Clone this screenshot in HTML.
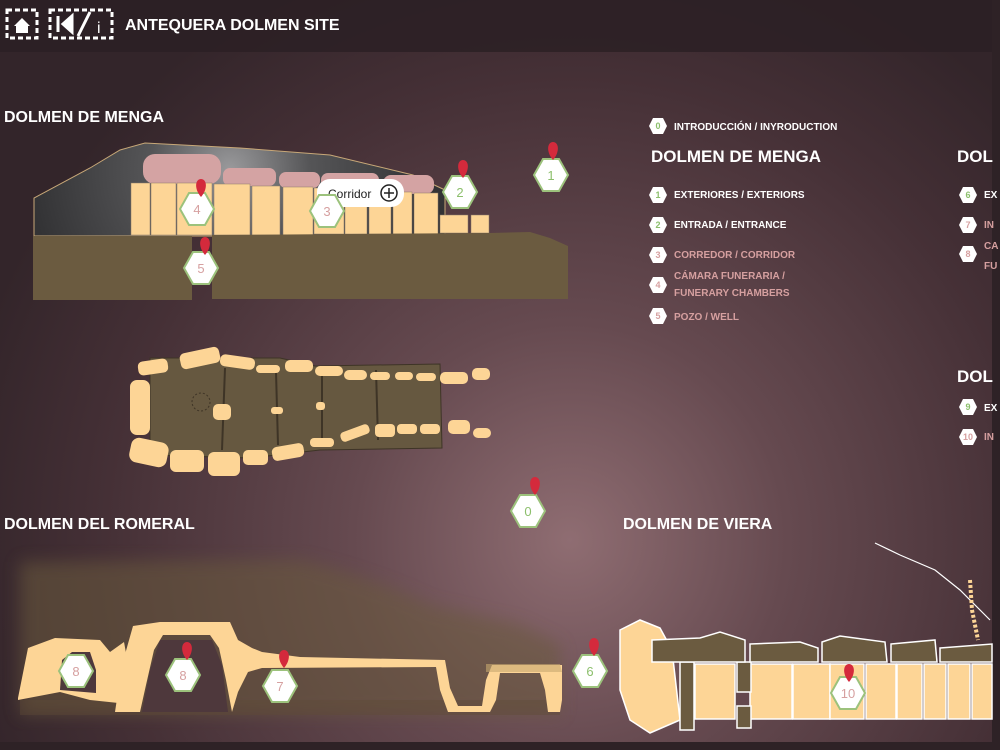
<!DOCTYPE html>
<html><head><meta charset="utf-8"><style>
html,body{margin:0;padding:0;width:1000px;height:750px;overflow:hidden;background:#2e2226}
svg{display:block}
text{font-family:"Liberation Sans",sans-serif}
</style></head><body>
<svg width="1000" height="750" viewBox="0 0 1000 750" xmlns="http://www.w3.org/2000/svg">
<defs>
<radialGradient id="bg" cx="570" cy="540" r="620" gradientUnits="userSpaceOnUse">
<stop offset="0" stop-color="#8f6d72"/><stop offset="0.35" stop-color="#664a50"/><stop offset="0.75" stop-color="#453036"/><stop offset="1" stop-color="#33252a"/></radialGradient>
<radialGradient id="mound" cx="230" cy="170" r="200" gradientUnits="userSpaceOnUse">
<stop offset="0" stop-color="#9a9a9c"/><stop offset="0.4" stop-color="#555557"/><stop offset="1" stop-color="#333335"/></radialGradient>
<filter id="blur" x="-10%" y="-10%" width="120%" height="120%"><feGaussianBlur stdDeviation="8"/></filter>
<g id="pin"><path d="M0,0 C-7,-8 -6,-18 0,-18 C6,-18 7,-8 0,0Z" fill="#d42a3c"/></g>
<polygon id="hex" points="-17,0 -8,-16 8,-16 17,0 8,16 -8,16" fill="#fff" stroke="#9cc27c" stroke-width="2"/>
<polygon id="sh" points="-9,0 -5,-8 5,-8 9,0 5,8 -5,8" fill="#fff"/>
</defs>
<rect width="1000" height="750" fill="url(#bg)"/>
<rect width="1000" height="52" fill="#2c2024" opacity="0.85"/>
<rect x="992" y="0" width="8" height="750" fill="#2e2226"/>
<rect x="0" y="742" width="1000" height="8" fill="#2e2226"/>
<!-- header icons -->
<rect x="7" y="10" width="30" height="28" fill="none" stroke="#fff" stroke-width="3" stroke-dasharray="5,3"/>
<path d="M14,26 L22,18 L30,26 L28,26 L28,33 L16,33 L16,26Z" fill="#fff"/>
<rect x="50" y="10" width="62" height="28" fill="none" stroke="#fff" stroke-width="3" stroke-dasharray="5,3"/>
<path d="M58,16 L58,32 M72,16 L63,24 L72,32Z" stroke="#fff" stroke-width="3" fill="#fff"/>
<line x1="78" y1="36" x2="90" y2="12" stroke="#fff" stroke-width="3"/>
<text x="97" y="33" fill="#fff" font-size="16">i</text>
<text x="125" y="30" fill="#fff" font-size="16" font-weight="bold">ANTEQUERA DOLMEN SITE</text>
<!-- section titles -->
<g fill="#fff" font-size="16" font-weight="bold">
<text x="4" y="122">DOLMEN DE MENGA</text>
<text x="4" y="529">DOLMEN DEL ROMERAL</text>
<text x="623" y="529">DOLMEN DE VIERA</text>
<text x="651" y="162" font-size="17">DOLMEN DE MENGA</text>
<text x="957" y="162" font-size="17">DOL</text>
<text x="957" y="382" font-size="17">DOL</text>
</g>
<!-- legend -->
<g font-size="10" font-weight="bold">
<g fill="#fff"><text x="674" y="130">INTRODUCCIÓN / INYRODUCTION</text><text x="674" y="198">EXTERIORES / EXTERIORS</text><text x="674" y="228">ENTRADA / ENTRANCE</text><text x="984" y="198">EX</text><text x="984" y="411">EX</text></g>
<g fill="#d6a0a0"><text x="674" y="258">CORREDOR / CORRIDOR</text><text x="674" y="279">CÁMARA FUNERARIA /</text><text x="674" y="296">FUNERARY CHAMBERS</text><text x="674" y="320">POZO / WELL</text><text x="984" y="228">IN</text><text x="984" y="249">CA</text><text x="984" y="269">FU</text><text x="984" y="440">IN</text></g>
</g>
<g font-size="9" font-weight="bold" text-anchor="middle">
<use href="#sh" x="658" y="126"/><text x="658" y="129" fill="#8cbf6c">0</text>
<use href="#sh" x="658" y="195"/><text x="658" y="198" fill="#8cbf6c">1</text>
<use href="#sh" x="658" y="225"/><text x="658" y="228" fill="#8cbf6c">2</text>
<use href="#sh" x="658" y="255"/><text x="658" y="258" fill="#d6a0a0">3</text>
<use href="#sh" x="658" y="285"/><text x="658" y="288" fill="#d6a0a0">4</text>
<use href="#sh" x="658" y="316"/><text x="658" y="319" fill="#d6a0a0">5</text>
<use href="#sh" x="968" y="195"/><text x="968" y="198" fill="#8cbf6c">6</text>
<use href="#sh" x="968" y="225"/><text x="968" y="228" fill="#d6a0a0">7</text>
<use href="#sh" x="968" y="254"/><text x="968" y="257" fill="#d6a0a0">8</text>
<use href="#sh" x="968" y="407"/><text x="968" y="410" fill="#8cbf6c">9</text>
<use href="#sh" x="968" y="437"/><text x="968" y="440" fill="#d6a0a0">10</text>
</g>
<!-- MENGA section view -->
<path d="M34,198 L34,236 L445,236 L445,190 L413,175 L330,155 L240,148 L145,143 L120,150 L90,168 Z" fill="url(#mound)" stroke="#c8a878" stroke-width="1"/>
<g fill="#d4a3a3">
<rect x="143" y="154" width="78" height="30" rx="12"/>
<rect x="223" y="168" width="53" height="18" rx="7"/>
<rect x="279" y="172" width="41" height="16" rx="7"/>
<rect x="321" y="173" width="58" height="16" rx="7"/>
<rect x="383" y="175" width="51" height="19" rx="8"/>
</g>
<g fill="#fdd596" stroke="#8a7a6a" stroke-width="0.5">
<rect x="131" y="183" width="19" height="52"/><rect x="151" y="183" width="25" height="52"/><rect x="177" y="183" width="35" height="52"/>
<rect x="214" y="184" width="36" height="51"/><rect x="252" y="186" width="28" height="49"/><rect x="283" y="187" width="30" height="48"/>
<rect x="314" y="188" width="30" height="46"/><rect x="345" y="190" width="22" height="44"/><rect x="369" y="190" width="22" height="44"/>
<rect x="393" y="192" width="19" height="42"/><rect x="414" y="193" width="24" height="41"/><rect x="440" y="215" width="28" height="18"/><rect x="471" y="215" width="18" height="18"/>
</g>
<path d="M33,236 L192,236 L192,300 L33,300Z" fill="#6b5b40"/>
<path d="M212,235 L490,233 L530,232 L550,238 L568,246 L568,299 L212,299Z" fill="#6b5b40"/>
<!-- corridor popup -->
<rect x="317" y="179" width="87" height="28" rx="13" fill="#fff"/>
<text x="328" y="198" font-size="12" fill="#222">Corridor</text>
<circle cx="389" cy="193" r="8" fill="none" stroke="#222" stroke-width="1.5"/>
<path d="M384,193 H394 M389,188 V198" stroke="#222" stroke-width="1.5"/>
<!-- plan view -->
<path d="M150,358 L280,358 L315,366 L440,364 L442,448 L320,450 L250,458 L150,455Z" fill="#665840" stroke="#3e3426" stroke-width="1"/>
<g stroke="#3e3426" stroke-width="2"><line x1="225" y1="368" x2="222" y2="450"/><line x1="276" y1="372" x2="278" y2="445"/><line x1="322" y1="376" x2="322" y2="442"/><line x1="376" y1="370" x2="378" y2="440"/></g>
<circle cx="201" cy="402" r="9" fill="none" stroke="#3e3426" stroke-dasharray="2,2"/>
<g fill="#fdd596">
<rect x="138" y="360" width="30" height="14" rx="5" transform="rotate(-8 153 367)"/>
<rect x="180" y="350" width="40" height="16" rx="5" transform="rotate(-12 200 358)"/>
<rect x="220" y="356" width="35" height="12" rx="5" transform="rotate(8 237 362)"/>
<rect x="256" y="365" width="24" height="8" rx="4"/>
<rect x="285" y="360" width="28" height="12" rx="5"/>
<rect x="315" y="366" width="28" height="10" rx="5"/>
<rect x="344" y="370" width="23" height="10" rx="5"/>
<rect x="370" y="372" width="20" height="8" rx="4"/><rect x="395" y="372" width="18" height="8" rx="4"/><rect x="416" y="373" width="20" height="8" rx="4"/>
<rect x="440" y="372" width="28" height="12" rx="5"/><rect x="472" y="368" width="18" height="12" rx="5"/>
<rect x="130" y="380" width="20" height="55" rx="7"/>
<rect x="213" y="404" width="18" height="16" rx="5"/><rect x="271" y="407" width="12" height="7" rx="3"/><rect x="316" y="402" width="9" height="8" rx="3"/>
<rect x="130" y="440" width="38" height="25" rx="8" transform="rotate(12 149 452)"/>
<rect x="170" y="450" width="34" height="22" rx="6"/><rect x="208" y="452" width="32" height="24" rx="6"/>
<rect x="243" y="450" width="25" height="15" rx="5"/><rect x="272" y="445" width="32" height="14" rx="5" transform="rotate(-10 288 452)"/>
<rect x="310" y="438" width="24" height="9" rx="4"/><rect x="340" y="428" width="30" height="10" rx="4" transform="rotate(-20 355 433)"/>
<rect x="375" y="424" width="20" height="13" rx="4"/><rect x="397" y="424" width="20" height="10" rx="4"/><rect x="420" y="424" width="20" height="10" rx="4"/>
<rect x="448" y="420" width="22" height="14" rx="5"/><rect x="473" y="428" width="18" height="10" rx="5"/>
</g>
<!-- ROMERAL -->
<path d="M20,562 L300,560 Q380,580 430,605 L520,625 L560,645 L560,715 L20,715Z" fill="#6b5a3c" opacity="0.55" filter="url(#blur)"/>
<path d="M560,715 L20,715 L20,700 L560,700Z" fill="#5e4a38" opacity="0.4"/>
<path d="M160,640 L212,640 L222,665 L228,712 L142,712 L150,670Z" fill="#4e383c"/>
<g fill="#fdd596">
<path d="M18,698 L28,648 L55,638 L100,640 L110,652 L124,642 L130,675 L128,704 L90,700 L60,692 L18,700Z"/>
<path d="M115,712 L122,665 L133,626 L160,622 L230,622 L238,640 L252,648 L262,652 L300,657 L445,660 L450,688 L458,706 L482,706 L486,680 L492,665 L562,665 L562,700 L560,712 L548,712 L545,690 L540,673 L500,673 L496,700 L490,712 L448,712 L440,690 L436,667 L262,668 L248,672 L238,692 L232,712 L226,680 L219,648 L210,635 L163,635 L154,650 L146,685 L140,712Z"/>
</g>
<path d="M60,690 L62,660 L72,652 L90,652 L96,670 L96,693 Z" fill="#4e383c"/>
<path d="M486,664 L560,664 L562,672 L486,672Z" fill="#c8a870" opacity="0.6"/>
<!-- VIERA -->
<path d="M620,630 L640,620 L660,628 L672,650 L680,720 L650,733 L630,720 L620,690Z" fill="#fdd596" stroke="#fff" stroke-width="1.5"/>
<g fill="#fdd596" stroke="#fff" stroke-width="1.5">
<rect x="695" y="664" width="40" height="55"/><rect x="750" y="664" width="42" height="55"/><rect x="793" y="664" width="37" height="55"/>
<rect x="830" y="664" width="34" height="55"/><rect x="866" y="664" width="30" height="55"/><rect x="897" y="664" width="25" height="55"/>
<rect x="924" y="664" width="22" height="55"/><rect x="948" y="664" width="22" height="55"/><rect x="972" y="664" width="20" height="55"/>
</g>
<g fill="#6b5b40" stroke="#fff" stroke-width="1.5">
<rect x="680" y="662" width="14" height="68"/><rect x="737" y="662" width="14" height="30"/><rect x="737" y="706" width="14" height="22"/>
<path d="M652,640 L700,638 L720,632 L745,640 L745,662 L652,662Z"/>
<path d="M750,644 L800,642 L818,648 L818,662 L750,662Z"/>
<path d="M822,642 L840,636 L885,642 L887,662 L822,662Z"/>
<path d="M891,644 L935,640 L937,662 L891,662Z"/>
<path d="M940,648 L992,644 L992,662 L940,662Z"/>
</g>
<path d="M875,543 L900,555 L935,570 L960,590 L990,620" fill="none" stroke="#fff" stroke-width="1.2"/>
<path d="M970,580 L972,610 L978,640" stroke="#fdd596" stroke-width="4" stroke-dasharray="3,2" fill="none"/>
<!-- markers -->
<g font-family="Liberation Serif,serif" font-size="13" text-anchor="middle">
<use href="#hex" x="551" y="175"/><text x="551" y="180" fill="#8cbf6c">1</text><use href="#pin" x="553" y="160"/>
<use href="#hex" x="460" y="192"/><text x="460" y="197" fill="#8cbf6c">2</text><use href="#pin" x="463" y="178"/>
<use href="#hex" x="327" y="211"/><text x="327" y="216" fill="#d6a0a0">3</text>
<use href="#hex" x="197" y="209"/><text x="197" y="214" fill="#d6a0a0">4</text><use href="#pin" x="201" y="197"/>
<use href="#hex" x="201" y="268"/><text x="201" y="273" fill="#d6a0a0">5</text><use href="#pin" x="205" y="255"/>
<use href="#hex" x="528" y="511"/><text x="528" y="516" fill="#8cbf6c">0</text><use href="#pin" x="535" y="495"/>
<use href="#hex" x="76" y="671"/><text x="76" y="676" fill="#d6a0a0">8</text>
<use href="#hex" x="183" y="675"/><text x="183" y="680" fill="#d6a0a0">8</text><use href="#pin" x="187" y="660"/>
<use href="#hex" x="280" y="686"/><text x="280" y="691" fill="#d6a0a0">7</text><use href="#pin" x="284" y="668"/>
<use href="#hex" x="590" y="671"/><text x="590" y="676" fill="#8cbf6c">6</text><use href="#pin" x="594" y="656"/>
<use href="#hex" x="848" y="693"/><text x="848" y="698" fill="#d6a0a0">10</text><use href="#pin" x="849" y="682"/>
</g>
</svg>
</body></html>
